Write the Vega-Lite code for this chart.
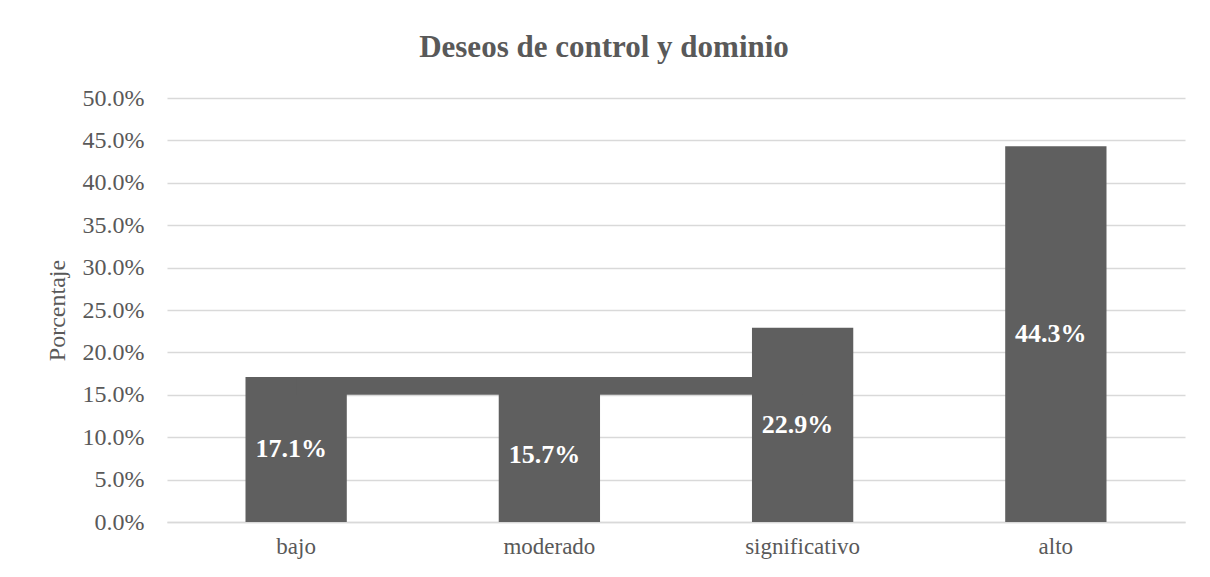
{
  "$schema": "https://vega.github.io/schema/vega-lite/v6.json",
  "autosize": {"type": "none"},
  "width": 1018,
  "height": 424,
  "padding": {"left": 167, "top": 98, "right": 25, "bottom": 55},
  "background": "white",
  "title": {
    "text": "Deseos de control y dominio",
    "font": "Liberation Serif",
    "fontSize": 31,
    "fontWeight": "bold",
    "color": "#595959",
    "anchor": "middle",
    "baseline": "alphabetic",
    "offset": -2,
    "dx": -72
  },
  "datasets": {
    "bars": [
      {"nivel": "bajo", "porcentaje": 0.171},
      {"nivel": "moderado", "porcentaje": 0.157},
      {"nivel": "significativo", "porcentaje": 0.229},
      {"nivel": "alto", "porcentaje": 0.443}
    ],
    "banda": [
      {"desde": "bajo", "hasta": "significativo", "bajoY": 0.15, "altoY": 0.171}
    ]
  },
  "encoding": {
    "x": {
      "field": "nivel",
      "type": "nominal",
      "sort": ["bajo", "moderado", "significativo", "alto"],
      "scale": {"domain": ["bajo", "moderado", "significativo", "alto"], "paddingInner": 0.6, "paddingOuter": 0.31},
      "axis": {
        "title": null,
        "labelAngle": 0,
        "labelFont": "Liberation Serif",
        "labelFontSize": 23,
        "labelColor": "#595959",
        "labelPadding": 13,
        "ticks": false,
        "domain": true,
        "domainColor": "#d9d9d9",
        "domainWidth": 1.5,
        "grid": false
      }
    }
  },
  "layer": [
    {
      "data": {"name": "bars"},
      "mark": {"type": "bar", "color": "#5f5f5f"},
      "encoding": {
        "y": {
          "field": "porcentaje",
          "type": "quantitative",
          "scale": {"domain": [0, 0.5], "nice": false},
          "axis": {
            "title": "Porcentaje",
            "titleFont": "Liberation Serif",
            "titleFontSize": 24,
            "titleFontWeight": "normal",
            "titleColor": "#595959",
            "titlePadding": 13,
            "format": ".1%",
            "values": [0, 0.05, 0.1, 0.15, 0.2, 0.25, 0.3, 0.35, 0.4, 0.45, 0.5],
            "labelFont": "Liberation Serif",
            "labelFontSize": 24,
            "labelColor": "#595959",
            "labelPadding": 23,
            "ticks": false,
            "domain": false,
            "grid": true,
            "gridColor": "#d9d9d9",
            "gridWidth": 1.3
          }
        }
      }
    },
    {
      "data": {"name": "banda"},
      "mark": {"type": "rect", "color": "#5f5f5f"},
      "encoding": {
        "x": {"field": "desde", "type": "nominal"},
        "x2": {"field": "hasta"},
        "y": {"field": "bajoY", "type": "quantitative"},
        "y2": {"field": "altoY"}
      }
    },
    {
      "data": {"name": "bars"},
      "transform": [{"calculate": "datum.porcentaje / 2", "as": "medio"}],
      "mark": {
        "type": "text",
        "font": "Liberation Serif",
        "fontSize": 26,
        "fontWeight": "bold",
        "color": "white",
        "baseline": "middle",
        "dx": -5
      },
      "encoding": {
        "y": {"field": "medio", "type": "quantitative"},
        "text": {"field": "porcentaje", "type": "quantitative", "format": ".1%"}
      }
    }
  ],
  "config": {"view": {"stroke": null}}
}
